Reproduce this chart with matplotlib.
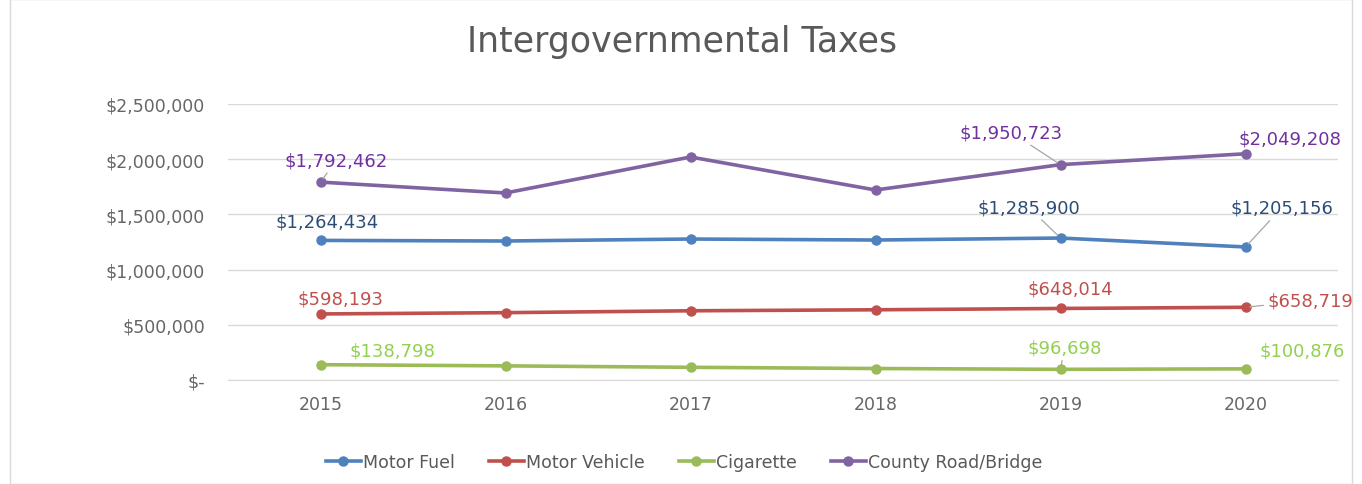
import matplotlib.pyplot as plt
from matplotlib.patches import Rectangle
from matplotlib.ticker import FuncFormatter

years = ['2015', '2016', '2017', '2018', '2019', '2020']
motor_fuel = [1264434, 1259000, 1277000, 1268000, 1285900, 1205156]
motor_vehicle = [598193, 610000, 627000, 636000, 648014, 658719]
cigarette = [138798, 128000, 115000, 104000, 96698, 100876]
county_road = [1792462, 1694000, 2020000, 1721000, 1950723, 2049208]

series = [
    ('Motor Fuel', motor_fuel, '#4F81BD', '#2C4D75'),
    ('Motor Vehicle', motor_vehicle, '#C0504D', '#C0504D'),
    ('Cigarette', cigarette, '#9BBB59', '#92D050'),
    ('County Road/Bridge', county_road, '#8064A2', '#7030A0'),
]

# which points get a label: (series index, year index, dx px, dy px, leader line)
labels = [
    (3, 0, 16, 22, True), (0, 0, 7, 19, False), (1, 0, 20, 15, False), (2, 0, 72, 14, False),
    (3, 4, -49, 32, True), (0, 4, -32, 31, True), (1, 4, 10, 20, False), (2, 4, 4, 22, True),
    (3, 5, 44, 15, False), (0, 5, 36, 39, True), (1, 5, 65, 7, True), (2, 5, 57, 18, False),
]

fig = plt.figure(figsize=(13.62, 4.85), dpi=100)
ax = fig.add_axes([228 / 1362, 1 - 381 / 485, 1110 / 1362, 276 / 485])

x = list(range(len(years)))
for name, vals, col, _ in series:
    ax.plot(x, vals, color=col, lw=2.6, marker='o', ms=6.5, label=name, zorder=3)

for si, yi, dx, dy, leader in labels:
    name, vals, col, lcol = series[si]
    ap = dict(arrowstyle='-', color='#A6A6A6', lw=0.9, shrinkA=1, shrinkB=3) if leader else None
    ax.annotate(f'${vals[yi]:,}', (x[yi], vals[yi]), xytext=(dx, dy),
                textcoords='offset pixels', ha='center', va='center',
                fontsize=13, color=lcol, arrowprops=ap, zorder=4)

ax.set_xlim(-0.5, 5.5)
ax.set_ylim(0, 2500000)
ax.set_xticks(x)
ax.set_xticklabels(years)
ax.set_yticks(range(0, 2500001, 500000))
ax.yaxis.set_major_formatter(FuncFormatter(lambda v, p: '$-' if v == 0 else f'${v:,.0f}'))
ax.tick_params(length=0, labelsize=12.5, labelcolor='#666666')
ax.tick_params(axis='y', pad=16.5)
ax.tick_params(axis='x', pad=11)
ax.grid(axis='y', color='#D9D9D9', lw=1)
ax.set_axisbelow(True)
for s in ['top', 'right', 'left']:
    ax.spines[s].set_visible(False)
ax.spines['bottom'].set_color('#D9D9D9')

fig.text(682 / 1362, 1 - 42 / 485, 'Intergovernmental Taxes', ha='center', va='center',
         fontsize=25, color='#595959')

ax.legend(loc='center', bbox_to_anchor=(684 / 1362, 1 - 463 / 485), bbox_transform=fig.transFigure,
          ncol=4, frameon=False, fontsize=12.5, labelcolor='#595959', handlelength=2.0,
          handletextpad=0.1, columnspacing=2.0)

fig.patches.append(Rectangle((10 / 1362, 0), 1342 / 1362, 1, transform=fig.transFigure,
                             fill=False, edgecolor='#D9D9D9', lw=1))

fig.savefig('out.png', dpi=100)
